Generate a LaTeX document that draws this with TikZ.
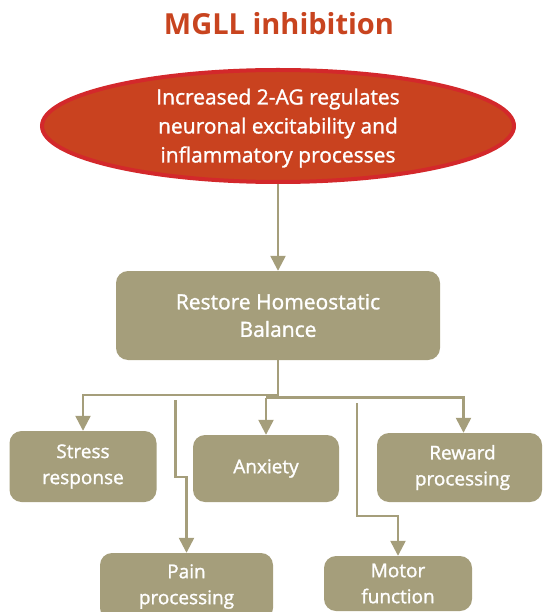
\documentclass[tikz,border=0pt]{standalone}
\usepackage{fontspec}
\setmainfont{Open Sans}[FakeBold=1.3]
\newfontfamily\titlefont{Open Sans Bold}
\usetikzlibrary{arrows.meta,shapes.geometric}
\definecolor{khaki}{HTML}{A59E7B}
\definecolor{titlered}{HTML}{C8441F}
\definecolor{ellfill}{HTML}{C9421F}
\definecolor{ellline}{HTML}{D3282B}
\tikzset{
  box/.style={draw=none, fill=khaki, rounded corners=12pt, text=white, align=center, inner sep=0pt},
  smalltext/.style={font=\fontsize{19}{26}\selectfont},
  conn/.style={draw=khaki, line width=2.4pt, -{Triangle[width=15pt,length=15pt]}}
}
\begin{document}
\begin{tikzpicture}[x=1pt,y=-1pt]
\useasboundingbox (0,0) rectangle (543,612);
\node[text=titlered, font=\fontsize{29}{34}\selectfont\titlefont] (title) at (279,24) {MGLL inhibition};
\node[ellipse, fill=ellfill, draw=ellline, line width=4pt, minimum width=472pt, minimum height=112pt, inner sep=0pt] (ell) at (278,126) {};
\node[text=white, align=center, font=\fontsize{21}{29}\selectfont] (elltext) at (278,128) {Increased 2-AG regulates\\neuronal excitability and\\inflammatory processes};
\node[box, minimum width=324pt, minimum height=89pt, font=\fontsize{21}{27.5}\selectfont] (restore) at (278,315.5) {Restore Homeostatic\\Balance};
\node[box, smalltext, minimum width=147pt, minimum height=71pt] (stress) at (83,466.5) {Stress\\response};
\node[box, smalltext, minimum width=146pt, minimum height=67pt] (anxiety) at (266,468.5) {Anxiety};
\node[box, smalltext, minimum width=165pt, minimum height=69pt] (reward) at (459.5,467.5) {\hspace*{6pt}Reward\\\hspace*{6pt}processing};
\node[box, smalltext, minimum width=173pt, minimum height=67pt] (pain) at (186.5,586.5) {Pain\\processing};
\node[box, smalltext, minimum width=148pt, minimum height=55pt] (motor) at (398,583.5) {Motor\\function};
\coordinate (bus) at (278,395);
\coordinate (busR) at (266,397.5);
\coordinate (pstart) at (175.5,400);
\coordinate (mstart) at (357,403);
\coordinate (rewardin) at ([xshift=4pt]reward.north);
\draw[conn] (ell.south) -- (restore.north);
\draw[conn] (restore.south) -- (bus) -| (stress.north);
\draw[conn] (busR) -| (rewardin);
\draw[conn] (busR) -- (anxiety.north);
\draw[conn] (pstart) -- ++(0,77) -| (pain.north);
\draw[conn] (mstart) -- ++(0,113) -| (motor.north);
\end{tikzpicture}
\end{document}
